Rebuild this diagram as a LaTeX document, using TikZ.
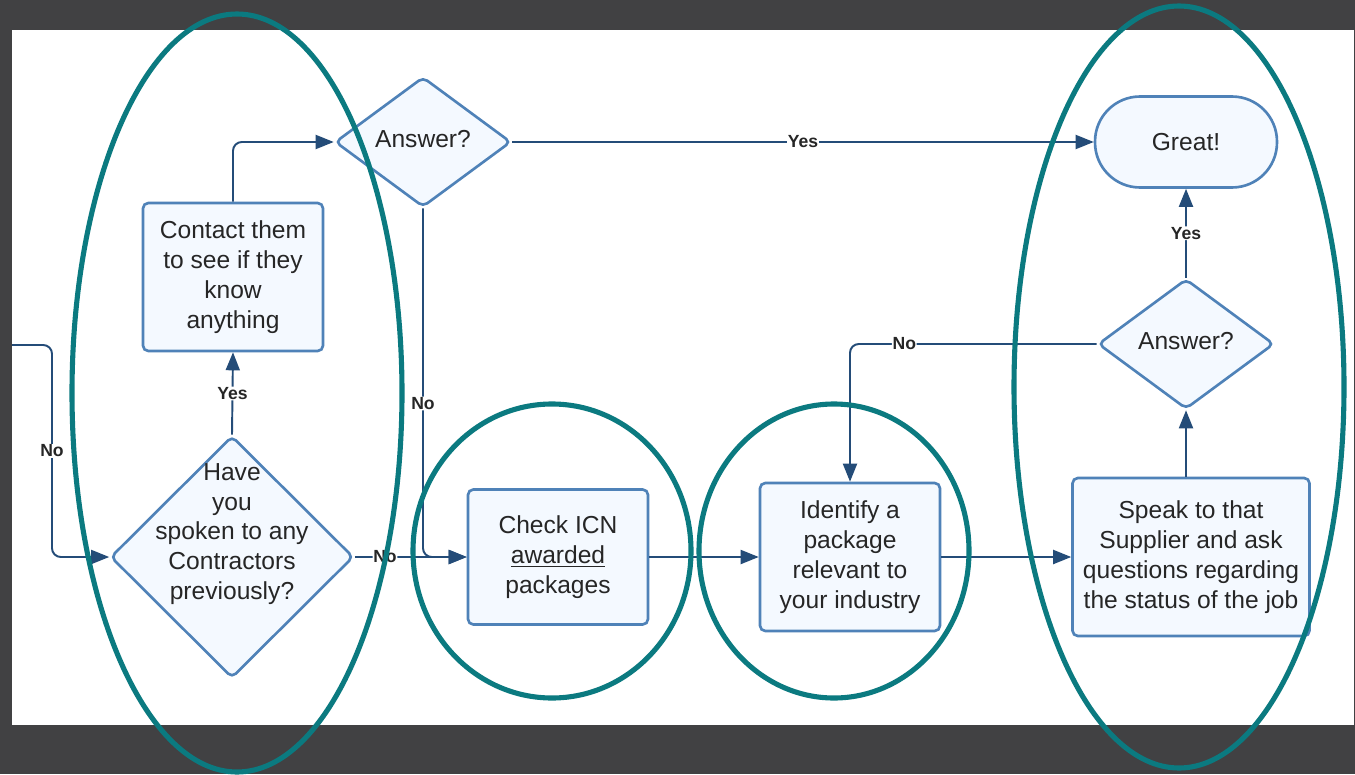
\documentclass[tikz,border=0pt]{standalone}
\usepackage{fontspec}
\setmainfont{Liberation Sans}
\usetikzlibrary{shapes.geometric}
\usetikzlibrary{arrows.meta}
\definecolor{boxfill}{HTML}{F4F9FF}
\definecolor{boxline}{HTML}{4F82B8}
\definecolor{flowline}{HTML}{244C78}
\definecolor{ringteal}{HTML}{0B7A80}
\definecolor{frame}{HTML}{414143}
\definecolor{ink}{HTML}{262626}

\begin{document}
\begin{tikzpicture}[x=0.02cm, y=-0.02cm,
      task/.style={rectangle, rounded corners=3pt, draw=boxline, fill=boxfill, line width=1.5pt, align=center, text=ink, font=\fontsize{14}{17}\selectfont},
      ask/.style={diamond, rounded corners=3pt, draw=boxline, fill=boxfill, line width=1.5pt, inner sep=0pt, minimum width=3.52cm, minimum height=2.6cm},
      words/.style={align=center, text=ink, font=\fontsize{14}{17}\selectfont},
      flow/.style={draw=flowline, line width=1.1pt, rounded corners=5pt, -{Triangle[length=0.36cm,width=0.28cm]}},
      tag/.style={fill=white, inner sep=0.4pt, text=ink, font=\bfseries\fontsize{10}{12}\selectfont},
      ring/.style={draw=ringteal, line width=2.9pt}]

      \fill[frame] (0,0) rectangle (1355,774);
      \fill[white] (12,30) rectangle (1354,725);

      \node[task, minimum width=3.6cm, minimum height=2.96cm] (contact) at (233,277) {Contact them\\to see if they\\know\\anything};
      \node[ask, minimum width=4.86cm, minimum height=4.84cm] (have) at (232,557) {};
      \node[words] (have-q) at (232,534) {Have\\you\\spoken to any\\Contractors\\previously?};
      \node[ask] (ans1) at (423,142) {};
      \node[words] (ans1-q) at (423,139) {Answer?};
      \node[task, minimum width=3.6cm, minimum height=2.7cm] (check) at (558,557) {Check ICN\\\underline{awarded}\\packages};
      \node[task, minimum width=3.6cm, minimum height=2.96cm] (ident) at (850,557) {Identify a\\package\\relevant to\\your industry};
      \node[task, minimum width=4.74cm, minimum height=3.16cm] (speak) at (1191,557) {Speak to that\\Supplier and ask\\questions regarding\\the status of the job};
      \node[ask] (ans2) at (1186,344) {};
      \node[words] (ans2-q) at (1186,341) {Answer?};
      \node[task, rounded corners=0.9cm, minimum width=3.64cm, minimum height=1.82cm] (great) at (1186,142) {Great!};

      \coordinate (enter) at (12,345);
      \coordinate (enter-bend) at (52,345);

      \draw[flow] (enter) -- (enter-bend) -- node[tag]{No} (enter-bend |- have.west) -- (have.west);
      \draw[flow] (have.north) -- node[tag]{Yes} (contact.south);
      \draw[flow] (contact.north) |- (ans1.west);
      \draw[flow] (ans1.east) -- node[tag]{Yes} (great.west);
      \draw[flow] (ans1.south) |- node[tag, pos=0.28]{No} (check.west);
      \draw[flow] (have.east) -- node[tag, pos=0.27]{No} (check.west);
      \draw[flow] (check.east) -- (ident.west);
      \draw[flow] (ident.east) -- (speak.west);
      \draw[flow] (speak.north -| ans2.south) -- (ans2.south);
      \draw[flow] (ans2.north) -- node[tag]{Yes} (great.south);
      \draw[flow] (ans2.west) -| node[tag, pos=0.39]{No} (ident.north);

      \draw[ring] (237,393) ellipse [x radius=165, y radius=379];
      \draw[ring] (552,551) ellipse [x radius=139, y radius=147];
      \draw[ring] (834,551) ellipse [x radius=135, y radius=147];
      \draw[ring] (1179,387) ellipse [x radius=165, y radius=381];
    \end{tikzpicture}
\end{document}
